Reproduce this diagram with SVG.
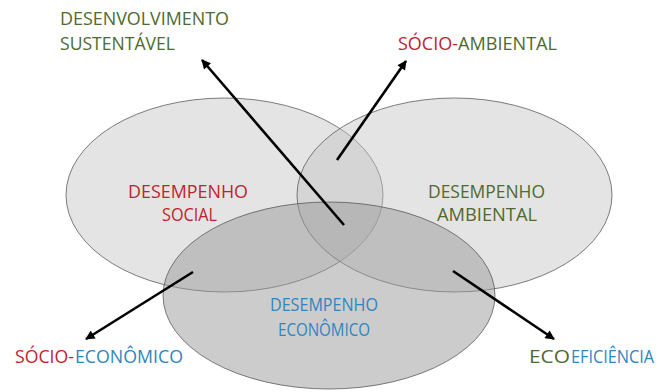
<svg xmlns="http://www.w3.org/2000/svg" width="661" height="392" viewBox="0 0 661 392">
<defs>
<style>
.ell{stroke:#4d4d4d;stroke-width:0.9;stroke-opacity:0.8}
.lt{fill:#c4c4c4;fill-opacity:0.45}
.dk{fill:#9a9a9a;fill-opacity:0.5}
text{font-family:"Open Sans","Liberation Sans",Arial,sans-serif;font-size:18px}
.r{fill:#c0232e}
.g{fill:#4e6a2e}
.b{fill:#2f85c2}
.arr{stroke:#000;stroke-width:2.6;fill:none;marker-end:url(#ah)}
</style>
<marker id="ah" viewBox="0 0 10 10" refX="9" refY="5" markerWidth="4" markerHeight="3.6" orient="auto" markerUnits="strokeWidth">
<path d="M0,0 L10,5 L0,10 z" fill="#000"/>
</marker>
</defs>
<rect width="661" height="392" fill="#fff"/>
<g id="social">
<ellipse class="ell lt" cx="224.5" cy="195" rx="158.5" ry="97"/>
<text class="r" x="128" y="198" textLength="120" lengthAdjust="spacingAndGlyphs">DESEMPENHO</text>
<text class="r" x="162" y="221" textLength="55" lengthAdjust="spacingAndGlyphs">SOCIAL</text>
</g>
<g id="ambiental">
<ellipse class="ell lt" cx="454.5" cy="195" rx="157.5" ry="97"/>
<text class="g" x="428" y="198" textLength="117" lengthAdjust="spacingAndGlyphs">DESEMPENHO</text>
<text class="g" x="437" y="221" textLength="100" lengthAdjust="spacingAndGlyphs">AMBIENTAL</text>
</g>
<g id="economico">
<ellipse class="ell dk" cx="329" cy="295.5" rx="166" ry="93.5"/>
<text class="b" x="270" y="311" textLength="108" lengthAdjust="spacingAndGlyphs">DESEMPENHO</text>
<text class="b" x="278" y="336" textLength="92" lengthAdjust="spacingAndGlyphs">ECONÔMICO</text>
</g>
<g id="connectors">
<line class="arr" x1="344" y1="225" x2="202" y2="60"/>
<line class="arr" x1="337" y1="160" x2="406" y2="61"/>
<line class="arr" x1="193" y1="272" x2="86" y2="339"/>
<line class="arr" x1="453" y1="271" x2="554" y2="339"/>
</g>
<g id="desenvolvimento-sustentavel">
<text class="g" x="60" y="25" textLength="169" lengthAdjust="spacingAndGlyphs">DESENVOLVIMENTO</text>
<text class="g" x="60" y="50" textLength="115" lengthAdjust="spacingAndGlyphs">SUSTENTÁVEL</text>
</g>
<g id="socio-ambiental">
<text class="r" x="398" y="50" textLength="60" lengthAdjust="spacingAndGlyphs">SÓCIO-</text>
<text class="g" x="458" y="50" textLength="99" lengthAdjust="spacingAndGlyphs">AMBIENTAL</text>
</g>
<g id="socio-economico">
<text class="r" x="15" y="363" textLength="59" lengthAdjust="spacingAndGlyphs">SÓCIO-</text>
<text class="b" x="75" y="363" textLength="108" lengthAdjust="spacingAndGlyphs">ECONÔMICO</text>
</g>
<g id="ecoeficiencia">
<text class="g" x="529" y="363" textLength="41" lengthAdjust="spacingAndGlyphs">ECO</text>
<text class="b" x="571" y="363" textLength="83" lengthAdjust="spacingAndGlyphs">EFICIÊNCIA</text>
</g>
</svg>
